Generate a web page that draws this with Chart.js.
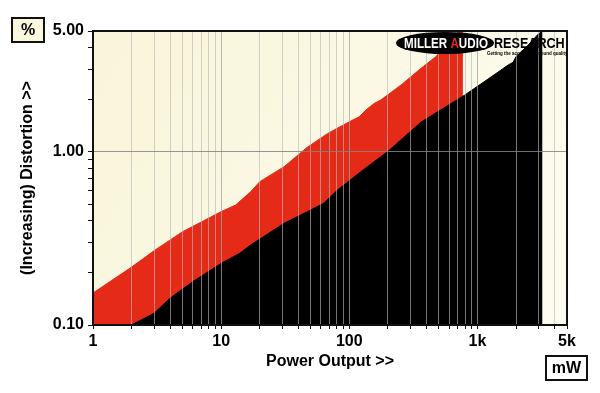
<!DOCTYPE html>
<html>
<head>
<meta charset="utf-8">
<script src="https://cdn.jsdelivr.net/npm/chart.js@4/dist/chart.umd.min.js"></script>
<style>
  html, body { margin: 0; padding: 0; background: #fff; }
  #wrap { width: 600px; height: 393px; }
</style>
</head>
<body>
<div id="wrap"><canvas id="distChart" width="600" height="393"></canvas></div>
<script>
// power output (mW) and distortion (%)
const redPower = [1, 2, 3, 5, 10, 13, 17, 20, 31, 47, 68, 97, 120, 135, 157, 177, 254, 364, 476, 521, 600, 700, 770];
const redDist = [0.153, 0.216, 0.269, 0.346, 0.452, 0.494, 0.589, 0.673, 0.822, 1.064, 1.28, 1.476, 1.6, 1.75, 1.91, 2.0, 2.44, 3.05, 3.56, 3.89, 4.35, 4.9, 5.0];

const blackPower = [2, 3, 4, 6, 10, 14, 17, 31, 50, 63, 81, 123, 199, 364, 794, 1285, 1738, 1900, 2000, 2490, 2985, 3220];
const blackDist = [0.1, 0.117, 0.143, 0.178, 0.227, 0.26, 0.29, 0.387, 0.462, 0.505, 0.603, 0.769, 1.004, 1.49, 2.13, 2.72, 3.18, 3.3, 3.56, 4.15, 4.8, 5.0];

const xTicks = [1,2,3,4,5,6,7,8,9,10,20,30,40,50,60,70,80,90,100,200,300,400,500,600,700,800,900,1000,2000,3000,4000,5000];
const xLabelValues = [1, 10, 100, 1000, 5000];
const xLabelText = ['1', '10', '100', '1k', '5k'];

const yTicks = [0.1,0.2,0.3,0.4,0.5,0.6,0.7,0.8,0.9,1,2,3,4,5];
const yLabelValues = [0.1, 1, 5];
const yLabelText = ['0.10', '1.00', '5.00'];

const FONT = 'Liberation Sans, Arial, sans-serif';

function pts(xs, ys) {
  return xs.map((x, i) => ({ x: x, y: ys[i] }));
}

const backdrop = {
  id: 'backdrop',
  beforeDraw(chart) {
    const { ctx, chartArea: a } = chart;
    const g = ctx.createLinearGradient(a.left, a.top, a.right, a.bottom);
    g.addColorStop(0, '#f9f5da');
    g.addColorStop(1, '#fdfcf0');
    ctx.save();
    ctx.fillStyle = g;
    ctx.fillRect(a.left, a.top, a.right - a.left, a.bottom - a.top);
    ctx.restore();
  },
  afterDraw(chart) {
    const { ctx, chartArea: a } = chart;
    ctx.save();
    ctx.strokeStyle = '#111';
    ctx.lineWidth = 2;
    ctx.strokeRect(a.left, a.top, a.right - a.left, a.bottom - a.top);

    // unit boxes
    ctx.font = 'bold 16px ' + FONT;
    ctx.textAlign = 'center';
    ctx.textBaseline = 'middle';
    ctx.fillStyle = '#fbf7dc';
    ctx.fillRect(12, 18, 32, 24);
    ctx.strokeRect(12, 18, 32, 24);
    ctx.fillStyle = '#000';
    ctx.fillText('%', 28, 31);
    ctx.fillStyle = '#fff';
    ctx.fillRect(546, 356, 41, 24);
    ctx.strokeRect(546, 356, 41, 24);
    ctx.fillStyle = '#000';
    ctx.fillText('mW', 566.5, 369);

    // logo
    ctx.beginPath();
    ctx.ellipse(445, 43, 49, 11, 0, 0, Math.PI * 2);
    ctx.fillStyle = '#000';
    ctx.fill();
    ctx.font = 'bold 14px ' + FONT;
    ctx.textAlign = 'left';
    ctx.textBaseline = 'middle';
    const parts = [['MILLER ', '#fff'], ['A', '#e52a18'], ['UDIO', '#fff']];
    ctx.save();
    ctx.translate(404, 44);
    ctx.scale(0.83, 1);
    let off = 0;
    parts.forEach(p => {
      ctx.fillStyle = p[1];
      ctx.fillText(p[0], off, 0);
      off += ctx.measureText(p[0]).width;
    });
    ctx.restore();
    ctx.save();
    ctx.translate(494, 44);
    ctx.scale(0.9, 1);
    ctx.fillStyle = '#000';
    ctx.fillText('RESEARCH', 0, 0);
    ctx.restore();
    ctx.save();
    ctx.translate(487, 53);
    ctx.scale(0.75, 1);
    ctx.font = 'bold 6px ' + FONT;
    ctx.fillStyle = '#000';
    ctx.fillText('Getting the accuracy of sound quality', 0, 0);
    ctx.restore();
    ctx.restore();
  }
};

const ctx = document.getElementById('distChart').getContext('2d');
new Chart(ctx, {
  type: 'line',
  data: {
    datasets: [
      {
        label: 'black',
        data: pts(blackPower, blackDist),
        backgroundColor: '#000',
        borderColor: '#000',
        borderWidth: 1,
        fill: 'start',
        pointRadius: 0,
        tension: 0,
        order: 1
      },
      {
        label: 'red',
        data: pts(redPower, redDist),
        backgroundColor: '#e52a18',
        borderColor: '#e52a18',
        borderWidth: 1,
        fill: 'start',
        pointRadius: 0,
        tension: 0,
        order: 2
      }
    ]
  },
  options: {
    responsive: false,
    animation: false,
    layout: { padding: { top: 31, right: 33, bottom: 18, left: 0 } },
    plugins: { legend: { display: false }, tooltip: { enabled: false } },
    scales: {
      x: {
        type: 'logarithmic',
        min: 1,
        max: 5000,
        afterBuildTicks: s => { s.ticks = xTicks.map(v => ({ value: v })); },
        afterFit: s => { s.height = 50; },
        border: { display: false },
        grid: {
          z: 1,
          color: c => xLabelValues.includes(c.tick.value) && c.tick.value < 5000 ? 'rgba(160,160,160,0.75)' : 'rgba(185,185,185,0.64)',
          tickColor: '#111',
          tickLength: 4
        },
        ticks: {
          autoSkip: false,
          maxRotation: 0,
          padding: 3,
          color: '#000',
          font: { family: FONT, size: 16, weight: 'bold' },
          callback: v => {
            const i = xLabelValues.indexOf(v);
            return i >= 0 ? xLabelText[i] : '';
          }
        },
        title: {
          display: true,
          text: 'Power Output >>',
          color: '#000',
          font: { family: FONT, size: 16, weight: 'bold', lineHeight: 1.2 },
          padding: { top: 0, bottom: 4 }
        }
      },
      y: {
        type: 'logarithmic',
        min: 0.1,
        max: 5,
        afterBuildTicks: s => { s.ticks = yTicks.map(v => ({ value: v })); },
        afterFit: s => { s.width = 93; },
        border: { display: false },
        grid: {
          z: 1,
          color: c => c.tick.value === 1 ? 'rgba(130,130,130,0.85)' : 'transparent',
          tickColor: '#111',
          tickLength: 5
        },
        ticks: {
          autoSkip: false,
          padding: 4,
          color: '#000',
          font: { family: FONT, size: 16, weight: 'bold' },
          callback: v => {
            const i = yLabelValues.indexOf(v);
            return i >= 0 ? yLabelText[i] : '';
          }
        },
        title: {
          display: true,
          text: '(Increasing) Distortion >>',
          color: '#000',
          font: { family: FONT, size: 16, weight: 'bold', lineHeight: 1.2 },
          padding: { top: 18, bottom: 0 }
        }
      }
    }
  },
  plugins: [backdrop]
});
</script>
</body>
</html>
